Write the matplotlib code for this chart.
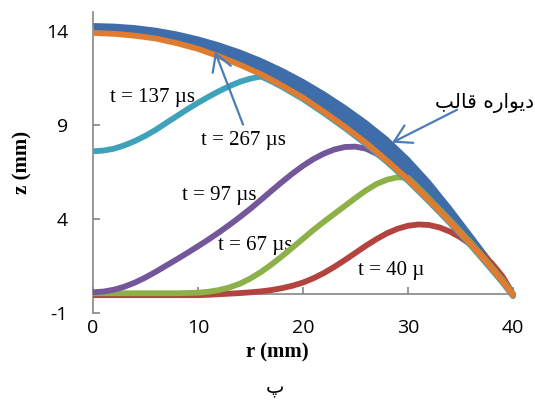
import matplotlib
matplotlib.use("Agg")
import matplotlib.pyplot as plt

plt.rcParams["axes.unicode_minus"] = False

# mould wall (outer and inner edge) and free-surface profiles z(r), values in mm
wall_r = [0, 2, 4, 6, 8, 10, 12, 14, 16, 18, 20, 22, 24, 26, 28, 30, 32, 34, 36, 38, 39, 40]
wall_outer_z = [14.33, 14.30, 14.22, 14.08, 13.88, 13.62, 13.30, 12.92, 12.47, 11.95, 11.36,
                10.70, 9.97, 9.17, 8.28, 7.22, 6.00, 4.62, 3.15, 1.68, 0.90, -0.15]
wall_inner_z = [13.95, 13.90, 13.80, 13.65, 13.40, 13.10, 12.70, 12.25, 11.75, 11.15, 10.50,
                9.75, 8.95, 8.10, 7.15, 6.15, 5.05, 3.90, 2.70, 1.40, 0.72, -0.10]

t267_r = [0, 2, 4, 6, 8, 10, 12, 14, 16, 18, 20, 22, 24, 26, 28, 30, 32, 34, 36, 38, 39, 40]
t267_z = [13.90, 13.85, 13.75, 13.60, 13.35, 13.05, 12.65, 12.20, 11.70, 11.10, 10.45,
          9.70, 8.90, 8.05, 7.10, 6.10, 5.00, 3.85, 2.65, 1.35, 0.68, -0.05]

t137_r = [0, 1, 2, 3, 4, 5, 6, 7, 8, 9, 10, 11, 12, 13, 14, 15, 16, 17, 18, 20, 22, 24,
          26, 28, 30, 32, 34, 36, 38, 39, 40]
t137_z = [7.60, 7.64, 7.74, 7.92, 8.15, 8.43, 8.75, 9.12, 9.48, 9.84, 10.18, 10.50, 10.80,
          11.07, 11.30, 11.47, 11.58, 11.32, 11.03, 10.38, 9.63, 8.83, 7.98, 7.03, 6.03,
          4.93, 3.78, 2.58, 1.28, 0.62, -0.10]

t97_r = [0, 1, 2, 3, 4, 5, 6, 7, 8, 9, 10, 11, 12, 13, 14, 15, 16, 17, 18, 19, 20, 21,
         22, 23, 24, 25, 26, 27, 28, 30, 32, 34, 36, 38, 39, 40]
t97_z = [0.10, 0.14, 0.24, 0.40, 0.62, 0.89, 1.20, 1.53, 1.86, 2.20, 2.55, 2.91, 3.29,
         3.69, 4.11, 4.55, 5.02, 5.50, 5.97, 6.42, 6.83, 7.19, 7.48, 7.70, 7.83, 7.85,
         7.74, 7.48, 7.10, 6.10, 5.00, 3.85, 2.65, 1.35, 0.68, -0.05]

t67_r = [0, 4, 8, 10, 11, 12, 13, 14, 15, 16, 17, 18, 19, 20, 21, 22, 23, 24, 25, 26,
         27, 28, 29, 30, 31, 32, 34, 36, 38, 39, 40]
t67_z = [0.05, 0.05, 0.05, 0.08, 0.13, 0.22, 0.36, 0.56, 0.84, 1.18, 1.58, 2.02, 2.48,
         2.95, 3.42, 3.86, 4.28, 4.70, 5.12, 5.52, 5.86, 6.09, 6.22, 6.19, 5.65, 5.08,
         3.93, 2.73, 1.43, 0.76, 0.00]

t40_r = [0, 4, 8, 10, 11, 12, 13, 14, 15, 16, 17, 18, 19, 20, 21, 22, 23, 24, 25, 26, 27,
         28, 29, 30, 31, 32, 33, 34, 35, 36, 37, 38, 39, 40]
t40_z = [-0.05, -0.05, -0.05, -0.05, -0.03, 0.00, 0.03, 0.06, 0.10, 0.15, 0.22, 0.32,
         0.45, 0.62, 0.85, 1.13, 1.46, 1.82, 2.20, 2.58, 2.93, 3.24, 3.48, 3.64, 3.71,
         3.68, 3.55, 3.33, 3.02, 2.63, 2.17, 1.63, 0.95, 0.00]

x_ticks = [0, 10, 20, 30, 40]
y_ticks = [-1, 4, 9, 14]

# Persian text, pre-shaped (presentation forms, visual order)
wall_label = "\uFE90\uFEDF\uFE8E\uFED7 \uFEE9\uFEAD\uFE8D\uFEEE\uFEF3\uFEA9"
panel_label = "\u067E"

grey = "#868686"
wall_col = "#3F6DAA"
arrow_col = "#4A7EBB"
serif = ["Liberation Serif", "DejaVu Serif"]

fig = plt.figure(figsize=(5.35, 4.03), dpi=100)
ax = fig.add_axes([0.17383, 0.22333, 0.79682, 0.74640])

line_kw = dict(solid_capstyle="round", solid_joinstyle="round")

# wall drawn as a band between its two edges
ax.fill_between(wall_r, wall_inner_z, wall_outer_z, color=wall_col, lw=0, zorder=2)
ax.plot(wall_r, wall_outer_z, color=wall_col, lw=2.5, zorder=2, **line_kw)
ax.plot(wall_r, wall_inner_z, color=wall_col, lw=2.5, zorder=2, **line_kw)

ax.plot(t40_r, t40_z, color="#B3433F", lw=4.2, zorder=3, **line_kw)
ax.plot(t67_r, t67_z, color="#8DB148", lw=4.2, zorder=4, **line_kw)
ax.plot(t97_r, t97_z, color="#73579A", lw=4.2, zorder=5, **line_kw)
ax.plot(t137_r, t137_z, color="#3DA2BA", lw=4.2, zorder=6, **line_kw)
ax.plot(t267_r, t267_z, color="#E07C30", lw=4.2, zorder=7, **line_kw)

ax.set_xlim(0, 40.6)
ax.set_ylim(-1, 15)

for side in ["top", "right"]:
    ax.spines[side].set_visible(False)
ax.spines["bottom"].set_position(("data", 0))
ax.spines["bottom"].set_bounds(0, 40)
for side in ["left", "bottom"]:
    ax.spines[side].set_color(grey)
    ax.spines[side].set_linewidth(1.2)

ax.set_xticks(x_ticks)
ax.set_yticks(y_ticks)
ax.tick_params(direction="in", length=5, width=1.2, color=grey,
               labelsize=14, labelcolor="black")
ax.tick_params(axis="x", pad=18)
ax.tick_params(axis="y", pad=18)
for lab in ax.get_xticklabels() + ax.get_yticklabels():
    lab.set_family("Open Sans")

# curve labels
ax.text(5.7, 10.45, "t = 137 µs", family=serif, fontsize=15, ha="center", va="center")
ax.text(14.33, 8.2, "t = 267 µs", family=serif, fontsize=15, ha="center", va="center")
ax.text(12.05, 5.25, "t = 97 µs", family=serif, fontsize=15, ha="center", va="center")
ax.text(15.48, 2.6, "t = 67 µs", family=serif, fontsize=15, ha="center", va="center")
ax.text(28.43, 1.27, "t = 40 µ", family=serif, fontsize=15, ha="center", va="center")
ax.text(37.3, 10.19, wall_label, family=["DejaVu Sans"], fontsize=14.5,
        ha="center", va="center")

arrow = dict(arrowstyle="->,head_length=1.2,head_width=0.7", color=arrow_col, lw=1.6,
             shrinkA=0, shrinkB=0)
ax.annotate("", xy=(11.62, 12.90), xytext=(14.29, 9.02), arrowprops=arrow, zorder=8)
ax.annotate("", xy=(28.48, 8.06), xytext=(34.67, 9.81), arrowprops=arrow, zorder=8)

fig.text(277 / 535, 1 - 352 / 403, "r (mm)", family=serif, fontsize=15,
         fontweight="bold", ha="center", va="center")
fig.text(22 / 535, 1 - 162 / 403, "z (mm)", family=serif, fontsize=15,
         fontweight="bold", ha="center", va="center", rotation=90)
fig.text(275 / 535, 1 - 389 / 403, panel_label, family=["DejaVu Sans"], fontsize=14,
         ha="center", va="center")

fig.savefig("out.png", dpi=100)
